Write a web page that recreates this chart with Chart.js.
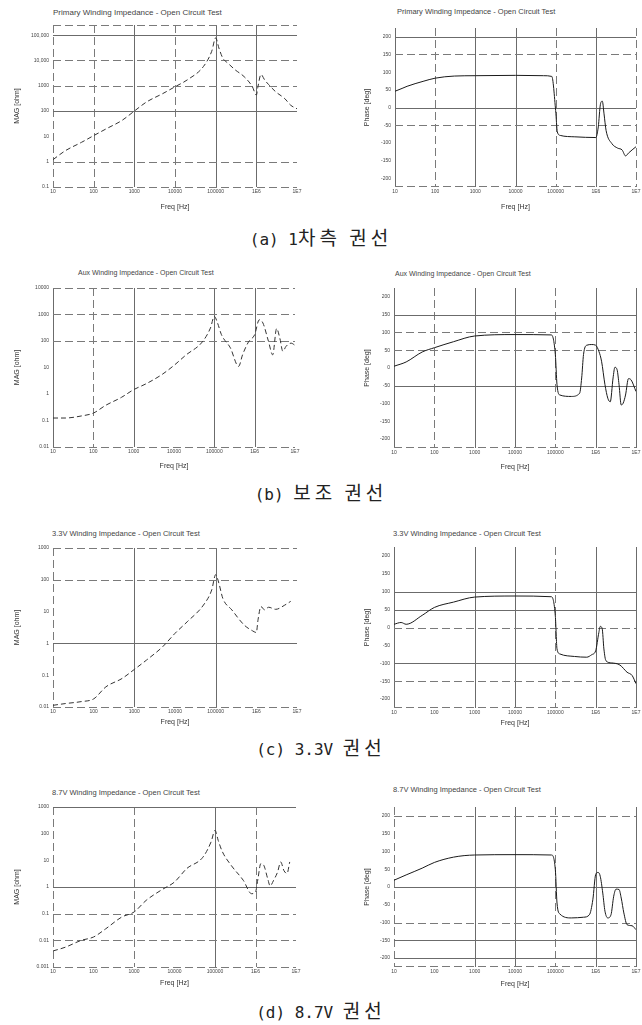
<!DOCTYPE html>
<html>
<head>
<meta charset="utf-8">
<script src="https://cdn.jsdelivr.net/npm/chart.js@4.4.1/dist/chart.umd.min.js"></script>
<style>
  body { margin: 0; background: #fff; width: 642px; height: 1025px; position: relative; overflow: hidden; font-family: "Liberation Sans", Arial, sans-serif; }
  canvas { position: absolute; }
  .t { position: absolute; font-size: 7px; line-height: 8px; color: #444; white-space: nowrap; }
  .cap { position: absolute; left: 0; width: 642px; text-align: center; font-family: "DejaVu Sans Mono", "Noto Sans CJK KR", monospace; font-size: 16px; line-height: 20px; color: #222; white-space: pre; }
  .cap .k { font-family: "Noto Sans CJK KR", sans-serif; font-size: 19px; letter-spacing: 4px; }
</style>
</head>
<body>
<div class="t" style="left:53px;top:9px;font-size:8px">Primary Winding Impedance - Open Circuit Test</div>
<div class="t" style="left:397px;top:8px;font-size:7.5px">Primary Winding Impedance - Open Circuit Test</div>
<div class="cap" style="top:227px">(a) 1<span class="k">차측 권선</span></div>

<div class="t" style="left:78px;top:269px">Aux Winding Impedance - Open Circuit Test</div>
<div class="t" style="left:395px;top:270px">Aux Winding Impedance - Open Circuit Test</div>
<div class="cap" style="top:482px">(b) <span class="k">보조 권선</span></div>

<div class="t" style="left:52px;top:530px;font-size:7.5px">3.3V Winding Impedance - Open Circuit Test</div>
<div class="t" style="left:393px;top:530px;font-size:7.5px">3.3V Winding Impedance - Open Circuit Test</div>
<div class="cap" style="top:737px">(c) 3.3V <span class="k">권선</span></div>

<div class="t" style="left:52px;top:789px;font-size:7.5px">8.7V Winding Impedance - Open Circuit Test</div>
<div class="t" style="left:393px;top:786px;font-size:7.5px">8.7V Winding Impedance - Open Circuit Test</div>
<div class="cap" style="top:1000px">(d) 8.7V <span class="k">권선</span></div>

<script>
// frequency axis (shared)
const freqTicks = [10, 100, 1000, 10000, 100000, 1e6, 1e7];
const freqLabels = ['10', '100', '1000', '10000', '100000', '1E6', '1E7'];

// phase axis (shared)
const phaseTicks = [-200, -150, -100, -50, 0, 50, 100, 150, 200];
const phaseLabels = ['-200', '-150', '-100', '-50', '0', '50', '100', '150', '200'];

// magnitude axes
const priMagTicks = [0.1, 1, 10, 100, 1000, 10000, 100000];
const priMagLabels = ['0.1', '1', '10', '100', '1000', '10,000', '100,000'];
const auxMagTicks = [0.01, 0.1, 1, 10, 100, 1000, 10000];
const auxMagLabels = ['0.01', '0.1', '1', '10', '100', '1000', '10000'];
const v33MagTicks = [0.01, 0.1, 1, 10, 100, 1000];
const v33MagLabels = ['0.01', '0.1', '1', '10', '100', '1000'];
const v87MagTicks = [0.001, 0.01, 0.1, 1, 10, 100, 1000];
const v87MagLabels = ['0.001', '0.01', '0.1', '1', '10', '100', '1000'];

// (a) primary winding
const priMagFreq = [10, 20, 50, 100, 200, 500, 1000, 2000, 5000, 10000, 20000, 50000, 80000, 100000, 120000, 150000, 200000, 300000, 500000, 800000, 1e6, 1.1e6, 1.3e6, 1.6e6, 2e6, 3e6, 5e6, 7e6, 1e7];
const priMag = [1.2, 2.7, 5.8, 10.7, 19.6, 43, 100, 229, 490, 912, 1700, 5750, 23000, 78000, 31000, 12300, 7800, 4270, 2300, 912, 430, 950, 2800, 1700, 1120, 575, 310, 170, 123];
const priPhaseFreq = [10, 15, 20, 50, 100, 300, 1000, 10000, 50000, 80000, 100000, 110000, 130000, 300000, 1e6, 1.15e6, 1.3e6, 1.45e6, 1.6e6, 1.8e6, 2.5e6, 3.5e6, 4.5e6, 5.5e6, 6.5e6, 8e6, 1e7];
const priPhase = [46, 54, 60, 74, 83, 89, 90, 91, 90, 88, -9, -69, -79, -83, -85, -55, 9, 18, -18, -65, -102, -115, -120, -137, -129, -120, -111];

// (b) aux winding
const auxMagFreq = [10, 20, 50, 100, 200, 500, 1000, 2000, 5000, 10000, 20000, 50000, 80000, 100000, 120000, 150000, 250000, 400000, 500000, 700000, 1e6, 1.3e6, 1.6e6, 2.2e6, 2.8e6, 3.5e6, 4.2e6, 5e6, 6e6, 8e6, 1e7];
const auxMag = [0.124, 0.124, 0.148, 0.19, 0.37, 0.75, 1.46, 2.4, 5.4, 12, 30, 91, 308, 850, 480, 174, 55, 11, 30, 91, 174, 630, 480, 97, 30, 295, 129, 41, 63, 83, 69];
const auxPhaseFreq = [10, 20, 50, 100, 300, 1000, 10000, 80000, 100000, 110000, 130000, 250000, 400000, 450000, 500000, 600000, 800000, 1e6, 1.2e6, 1.4e6, 1.7e6, 2e6, 2.3e6, 2.7e6, 3e6, 3.4e6, 3.8e6, 4.3e6, 4.8e6, 5.5e6, 6.5e6, 7.5e6, 1e7];
const auxPhase = [5, 17, 45, 57, 74, 90, 94, 93, 38, -47, -76, -80, -71, -28, 38, 64, 66, 64, 47, 19, -47, -85, -95, -28, 2, -5, -47, -104, -99, -76, -30, -33, -66];

// (c) 3.3V winding
const v33MagFreq = [10, 20, 50, 100, 200, 500, 1000, 2000, 5000, 10000, 20000, 50000, 80000, 100000, 120000, 150000, 250000, 500000, 800000, 1e6, 1.1e6, 1.3e6, 1.6e6, 2e6, 3e6, 5e6, 7e6];
const v33Mag = [0.0113, 0.0128, 0.0148, 0.018, 0.043, 0.079, 0.152, 0.3, 0.79, 2.07, 4.8, 16, 48, 145, 78, 26, 11.3, 3.8, 2.5, 2.2, 5.5, 14.4, 11.3, 13.7, 11.8, 16, 21];
const v33PhaseFreq = [10, 15, 20, 50, 100, 300, 1000, 10000, 80000, 100000, 110000, 130000, 300000, 600000, 800000, 1e6, 1.2e6, 1.3e6, 1.45e6, 1.6e6, 1.8e6, 2.5e6, 4e6, 6e6, 8e6, 1e7];
const v33Phase = [9, 14, 9, 34, 56, 71, 85, 88, 86, 32, -60, -74, -81, -83, -76, -65, -14, 3, -3, -60, -93, -99, -105, -125, -134, -157];

// (d) 8.7V winding
const v87MagFreq = [10, 20, 50, 100, 200, 500, 1000, 2000, 5000, 10000, 20000, 50000, 80000, 100000, 120000, 150000, 250000, 500000, 800000, 1e6, 1.15e6, 1.35e6, 1.6e6, 2e6, 2.3e6, 2.8e6, 3.5e6, 4.2e6, 5e6, 6e6, 7e6];
const v87Mag = [0.004, 0.0055, 0.01, 0.0133, 0.027, 0.075, 0.115, 0.316, 0.81, 1.54, 4.9, 13, 49, 133, 56, 22, 6.5, 1.78, 0.56, 0.65, 2.05, 7.5, 6.5, 2.05, 1.1, 1.78, 3.6, 8.7, 4.2, 3.2, 8.7];
const v87PhaseFreq = [10, 20, 50, 100, 300, 1000, 10000, 80000, 100000, 110000, 130000, 250000, 500000, 700000, 850000, 1e6, 1.15e6, 1.3e6, 1.5e6, 1.7e6, 2e6, 2.4e6, 2.8e6, 3.2e6, 3.8e6, 4.3e6, 5e6, 6e6, 8e6, 1e7];
const v87Phase = [19, 34, 53, 69, 84, 90, 91, 90, 49, -45, -76, -87, -85, -78, -36, 35, 41, 30, -17, -68, -87, -78, -26, -6, -7, -31, -73, -106, -109, -120];

// panel boxes (page px) and grid line looks: s = solid, d = dashed, n = none
const panels = [
  { x0: 0, y0: 0, W: 320, L: 53, R: 297, T: 25, B: 187, fy: 207, mag: true, yMin: 0.1, yMax: 251189,
    yTicks: priMagTicks, yLabels: priMagLabels, f: priMagFreq, v: priMag, gx: 'ddsdssn', gy: 'ddnsdds', frame: 'dn' },
  { x0: 320, y0: 0, W: 322, L: 395, R: 636, T: 28, B: 187, fy: 207, mag: false,
    f: priPhaseFreq, v: priPhase, gx: 'sdssdsd', gy: 'nnndsnnds', frame: 'nd' },
  { x0: 0, y0: 255, W: 320, L: 53, R: 295, T: 288, B: 447, fy: 466, mag: true, yMin: 0.01, yMax: 10000,
    yTicks: auxMagTicks, yLabels: auxMagLabels, f: auxMagFreq, v: auxMag, gx: 'sdsnssn', gy: 'dnnnddd', frame: 'nn' },
  { x0: 320, y0: 255, W: 322, L: 394, R: 636, T: 288, B: 448, fy: 467, mag: false,
    f: auxPhaseFreq, v: auxPhase, gx: 'sdssdss', gy: 'nnnsnddsn', frame: 'nd' },
  { x0: 0, y0: 510, W: 320, L: 53, R: 297, T: 548, B: 707, fy: 722, mag: true, yMin: 0.01, yMax: 1000,
    yTicks: v33MagTicks, yLabels: v33MagLabels, f: v33MagFreq, v: v33Mag, gx: 'dnsnsnn', gy: 'dnsndd', frame: 'nn' },
  { x0: 320, y0: 510, W: 322, L: 394, R: 636, T: 547, B: 708, fy: 723, mag: false,
    f: v33PhaseFreq, v: v33Phase, gx: 'snssdss', gy: 'ndsndssnn', frame: 'nd' },
  { x0: 0, y0: 765, W: 320, L: 53, R: 296, T: 807, B: 967, fy: 983, mag: true, yMin: 0.001, yMax: 1000,
    yTicks: v87MagTicks, yLabels: v87MagLabels, f: v87MagFreq, v: v87Mag, gx: 'dndnsdn', gy: 'dddsnns', frame: 'nn' },
  { x0: 320, y0: 765, W: 322, L: 394, R: 636, T: 807, B: 967, fy: 984, mag: false,
    f: v87PhaseFreq, v: v87Phase, gx: 'dnssdss', gy: 'ssdnsnnnd', frame: 'nd' }
];

function gridPlugin(p) {
  return {
    id: 'scanGrid',
    beforeDatasetsDraw(chart) {
      const { ctx, chartArea: a, scales } = chart;
      const yTicks = p.mag ? p.yTicks : phaseTicks;
      ctx.save();
      ctx.lineWidth = 1;
      const line = (st, x1, y1, x2, y2) => {
        if (st === 'n') return;
        ctx.beginPath();
        ctx.strokeStyle = st === 's' ? '#6b6b6b' : '#7a7a7a';
        ctx.setLineDash(st === 's' ? [] : [8, 4]);
        ctx.moveTo(x1, y1);
        ctx.lineTo(x2, y2);
        ctx.stroke();
      };
      freqTicks.forEach((f, i) => {
        const x = Math.round(scales.x.getPixelForValue(f)) + 0.5;
        line(p.gx[i], x, a.top, x, a.bottom);
      });
      yTicks.forEach((v, i) => {
        const y = Math.round(scales.y.getPixelForValue(v)) + 0.5;
        line(p.gy[i], a.left, y, a.right, y);
      });
      line(p.frame[0], a.left, a.top + 0.5, a.right, a.top + 0.5);
      line(p.frame[1], a.left, a.bottom - 0.5, a.right, a.bottom - 0.5);
      ctx.restore();
    }
  };
}

const tickFont = { family: '"Liberation Sans", Arial, sans-serif', size: 5 };
const titleFont = { family: '"Liberation Sans", Arial, sans-serif', size: 7 };

panels.forEach(p => {
  const xh = p.fy + 6 - p.B;
  const H = p.B - p.y0 + xh;
  const cv = document.createElement('canvas');
  cv.width = p.W; cv.height = H;
  cv.style.left = p.x0 + 'px'; cv.style.top = p.y0 + 'px';
  cv.style.width = p.W + 'px'; cv.style.height = H + 'px';
  document.body.appendChild(cv);

  const yw = p.L - p.x0;
  const yTicks = p.mag ? p.yTicks : phaseTicks;
  const yLabels = p.mag ? p.yLabels : phaseLabels;

  new Chart(cv, {
    type: 'line',
    data: {
      datasets: [{
        data: p.f.map((f, i) => ({ x: f, y: p.v[i] })),
        borderColor: p.mag ? '#333' : '#1a1a1a',
        borderWidth: 1,
        borderDash: p.mag ? [5, 3] : [],
        pointRadius: 0,
        cubicInterpolationMode: 'monotone'
      }]
    },
    options: {
      responsive: false,
      animation: false,
      devicePixelRatio: 1,
      layout: { padding: { left: 0, top: p.T - p.y0, right: p.x0 + p.W - p.R, bottom: 0 } },
      plugins: { legend: { display: false }, tooltip: { enabled: false } },
      scales: {
        x: {
          type: 'logarithmic', min: 10, max: 1e7,
          afterBuildTicks: s => { s.ticks = freqTicks.map(v => ({ value: v })); },
          afterFit: s => { s.height = xh; s.paddingLeft = 0; s.paddingRight = 0; },
          ticks: { autoSkip: false, maxRotation: 0, minRotation: 0, padding: 2, color: '#444', font: tickFont,
                   callback: v => freqLabels[freqTicks.indexOf(v)] },
          grid: { drawOnChartArea: false, drawTicks: false },
          border: { display: false },
          title: { display: true, text: 'Freq [Hz]', color: '#333', font: titleFont, padding: { top: 0, bottom: 2 } }
        },
        y: {
          type: p.mag ? 'logarithmic' : 'linear',
          min: p.mag ? p.yMin : -225,
          max: p.mag ? p.yMax : 225,
          afterBuildTicks: s => { s.ticks = yTicks.map(v => ({ value: v })); },
          afterFit: s => { s.width = yw; s.paddingTop = 0; s.paddingBottom = 0; },
          ticks: { autoSkip: false, padding: 4, color: '#444', font: tickFont,
                   callback: v => yLabels[yTicks.indexOf(v)] },
          grid: { drawOnChartArea: false, drawTicks: false },
          border: { display: false },
          title: { display: true, text: p.mag ? 'MAG [ohm]' : 'Phase [deg]', color: '#333', font: titleFont,
                   padding: { top: (p.mag ? 17 : 47) - 4, bottom: 0 } }
        }
      }
    },
    plugins: [gridPlugin(p)]
  });
});
</script>
</body>
</html>
